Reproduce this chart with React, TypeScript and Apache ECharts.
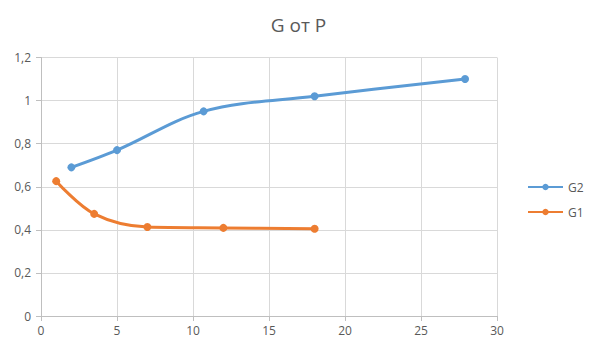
import React, { useEffect, useRef } from "react";
import * as echarts from "echarts";

const g2X = [2, 5, 10.7, 18, 27.9];
const g2Y = [0.69, 0.77, 0.95, 1.02, 1.1];
const g1X = [1, 3.5, 7, 12, 18];
const g1Y = [0.626, 0.474, 0.413, 0.409, 0.405];

export default function App() {
  const ref = useRef<HTMLDivElement>(null);
  useEffect(() => {
    const chart = echarts.init(ref.current!, null, { renderer: "svg" });
    const fmt = (v: number) => String(Math.round(v * 10) / 10).replace(".", ",");
    chart.setOption({
      animation: false,
      textStyle: { fontFamily: "Open Sans, Noto Sans, sans-serif" },
      title: {
        text: "G от P",
        left: "center",
        top: 10,
        textStyle: { fontSize: 19, fontWeight: "normal", color: "#595959", fontFamily: "Open Sans, Noto Sans, sans-serif" },
      },
      legend: {
        orient: "vertical",
        left: 522,
        top: 176,
        itemGap: 13,
        itemWidth: 35,
        itemHeight: 8,
        textStyle: { fontSize: 12, color: "#595959" },
        data: ["G2", "G1"],
      },
      grid: { left: 41, right: 100, top: 57.5, bottom: 38 },
      xAxis: {
        type: "value",
        min: 0,
        max: 30,
        interval: 5,
        axisLine: { lineStyle: { color: "#bfbfbf" } },
        axisTick: { show: true, length: 5, lineStyle: { color: "#bfbfbf" } },
        axisLabel: { color: "#595959", fontSize: 12, margin: 8 },
        splitLine: { lineStyle: { color: "#d9d9d9" } },
      },
      yAxis: {
        type: "value",
        min: 0,
        max: 1.2,
        interval: 0.2,
        axisLine: { show: true, lineStyle: { color: "#bfbfbf" } },
        axisTick: { show: true, length: 5, lineStyle: { color: "#bfbfbf" } },
        axisLabel: { color: "#595959", fontSize: 12, margin: 10, formatter: fmt },
        splitLine: { lineStyle: { color: "#d9d9d9" } },
      },
      series: [
        {
          name: "G2",
          type: "line",
          smooth: 0.35,
          symbol: "circle",
          symbolSize: 8,
          lineStyle: { width: 3, color: "#5b9bd5" },
          itemStyle: { color: "#5b9bd5" },
          data: g2X.map((x, i) => [x, g2Y[i]]),
        },
        {
          name: "G1",
          type: "line",
          smooth: 0.35,
          symbol: "circle",
          symbolSize: 8,
          lineStyle: { width: 3, color: "#ed7d31" },
          itemStyle: { color: "#ed7d31" },
          data: g1X.map((x, i) => [x, g1Y[i]]),
        },
      ],
    });
    return () => chart.dispose();
  }, []);
  return <div ref={ref} style={{ width: 597, height: 354, margin: -8 }} />;
}
